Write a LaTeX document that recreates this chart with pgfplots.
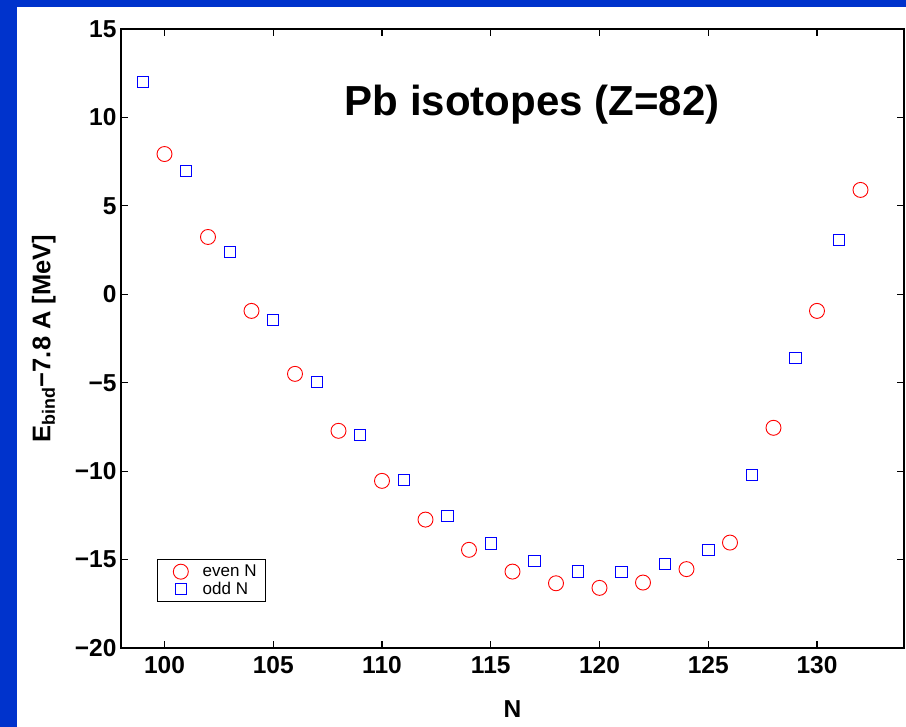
\documentclass[border=0pt]{standalone}
\usepackage{fontspec}
\setmainfont{Liberation Sans}
\usepackage{pgfplots}
\pgfplotsset{compat=1.18}
\definecolor{bgblue}{RGB}{0,51,204}
\begin{document}
\begin{tikzpicture}[x=1pt,y=1pt]
\useasboundingbox (0,0) rectangle (906,727);
\fill[white] (0,0) rectangle (906,727);
\fill[bgblue] (0,0) rectangle (17,727);
\fill[bgblue] (0,720) rectangle (906,727);
\begin{axis}[
  at={(121pt,79pt)}, anchor=south west,
  scale only axis, width=783pt, height=619pt,
  xmin=98, xmax=134, ymin=-20, ymax=15,
  xtick={100,105,...,130},
  ytick={-20,-15,...,15},
  yticklabels={−20,−15,−10,−5,0,5,10,15},
  tick align=inside,
  major tick length=7pt,
  axis line style={line width=1.4pt},
  every tick/.style={black, line width=1.2pt},
  /pgf/number format/assume math mode=true,
  ticklabel style={font=\fontsize{24.5}{28}\selectfont\bfseries},
  yticklabel style={xshift=-1pt},
  xticklabel style={yshift=-5pt},
  xlabel={N},
  ylabel={E\textsubscript{bind}−7.8 A [MeV]},
  every axis x label/.style={at={(axis description cs:0.5,-0.0985)}, anchor=center,
    font=\fontsize{24.5}{28}\selectfont\bfseries},
  every axis y label/.style={at={(axis description cs:-0.0985,0.5)}, rotate=90, anchor=center,
    font=\fontsize{25.5}{28}\selectfont\bfseries},
  legend style={at={(axis description cs:0.046,0.0743)}, anchor=south west,
    font=\fontsize{17}{19}\selectfont, draw=black, line width=0.8pt,
    inner xsep=6pt, inner ysep=3pt, row sep=-1pt, nodes={inner sep=2.5pt}},
  legend cell align=left,
  legend image code/.code={\draw[#1] plot coordinates {(17pt,0pt)}; \path (0pt,0pt) (36pt,0pt);},
]
\addplot[only marks, mark=o, mark size=7.5pt, color=red, mark options={line width=0.9pt}]
coordinates {
(100,7.93) (102,3.24) (104,-0.94) (106,-4.5) (108,-7.72) (110,-10.55)
(112,-12.74) (114,-14.45) (116,-15.68) (118,-16.34) (120,-16.6) (122,-16.3)
(124,-15.54) (126,-14.04) (128,-7.55) (130,-0.94) (132,5.9)
};
\addlegendentry{even N}
\addplot[only marks, mark=square, mark size=5.7pt, color=blue, mark options={line width=0.9pt}]
coordinates {
(99,12.0) (101,6.97) (103,2.4) (105,-1.45) (107,-4.95) (109,-7.95)
(111,-10.5) (113,-12.53) (115,-14.1) (117,-15.07) (119,-15.68) (121,-15.7)
(123,-15.24) (125,-14.47) (127,-10.2) (129,-3.6) (131,3.07)
};
\addlegendentry{odd N}
\node[font=\fontsize{42}{48}\selectfont\bfseries] at (axis cs:116.9,10.7) {Pb isotopes (Z=82)};
\end{axis}
\end{tikzpicture}
\end{document}
